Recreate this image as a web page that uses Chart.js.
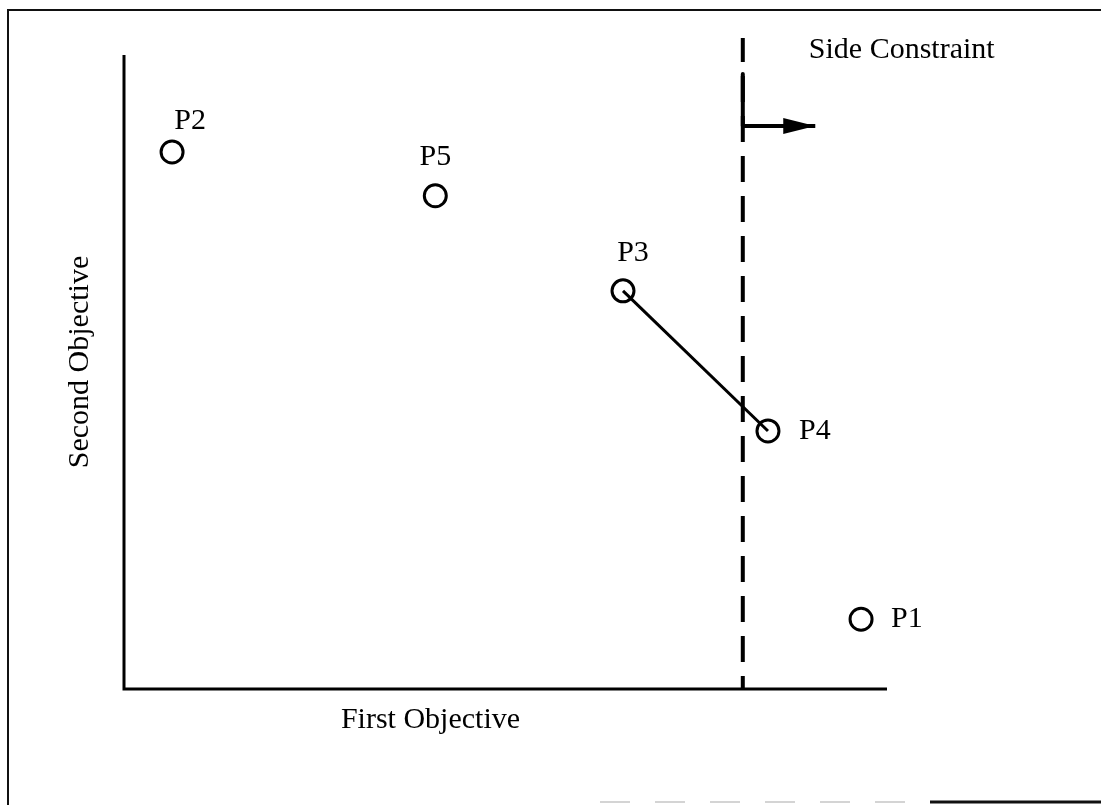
<!DOCTYPE html>
<html>
<head>
<meta charset="utf-8">
<script src="https://cdn.jsdelivr.net/npm/chart.js@4.4.1/dist/chart.umd.min.js"></script>
<style>
  html, body { margin: 0; padding: 0; background: #fff; }
  canvas { display: block; }
</style>
</head>
<body>
<canvas id="objChart" width="1101" height="805"></canvas>
<script>
// data (axis units 0..10, no ticks shown)
const pointNames = ['P1', 'P2', 'P3', 'P4', 'P5'];
const pointX = [9.66, 0.63, 6.54, 8.44, 4.08];
const pointY = [1.10, 8.47, 6.28, 4.07, 7.78];
const pathNames = ['P3', 'P4'];
const constraintX = [8.11, 8.11];
const constraintY = [0, 10.27];
const arrowX = [8.11, 8.11, 9.06];
const arrowY = [9.70, 8.88, 8.88];
const xTitle = 'First Objective';
const yTitle = 'Second Objective';
const constraintLabel = 'Side Constraint';

const FONT = '30px "Liberation Serif", "Times New Roman", serif';

function toXY(xs, ys) {
  return xs.map((x, i) => ({ x: x, y: ys[i] }));
}

const pathData = pathNames.map(n => {
  const i = pointNames.indexOf(n);
  return { x: pointX[i], y: pointY[i] };
});

// label offsets in pixels from each point centre
const labelOffsets = {
  P1: [30, 0, 'left'],
  P2: [18, -31, 'center'],
  P3: [10, -38, 'center'],
  P4: [31, 0, 'left'],
  P5: [0, -39, 'center']
};

const decorPlugin = {
  id: 'decor',
  beforeDraw(chart) {
    const ctx = chart.ctx;
    ctx.save();
    ctx.fillStyle = '#fff';
    ctx.fillRect(0, 0, chart.width, chart.height);
    // outer frame (scan edges)
    ctx.strokeStyle = '#111';
    ctx.lineWidth = 2;
    ctx.beginPath();
    ctx.moveTo(8, 805);
    ctx.lineTo(8, 10);
    ctx.lineTo(1101, 10);
    ctx.stroke();
    ctx.strokeStyle = '#d4d4d4';
    ctx.setLineDash([30, 25]);
    ctx.beginPath();
    ctx.moveTo(600, 802);
    ctx.lineTo(930, 802);
    ctx.stroke();
    ctx.setLineDash([]);
    ctx.strokeStyle = '#111';
    ctx.lineWidth = 3;
    ctx.beginPath();
    ctx.moveTo(930, 802);
    ctx.lineTo(1101, 802);
    ctx.stroke();

    // axes
    const xs = chart.scales.x, ys = chart.scales.y;
    ctx.strokeStyle = '#000';
    ctx.lineWidth = 3;
    ctx.beginPath();
    ctx.moveTo(xs.getPixelForValue(0), ys.getPixelForValue(10));
    ctx.lineTo(xs.getPixelForValue(0), ys.getPixelForValue(0));
    ctx.lineTo(xs.getPixelForValue(10), ys.getPixelForValue(0));
    ctx.stroke();
    ctx.restore();
  },
  afterDatasetsDraw(chart) {
    const ctx = chart.ctx;
    const xs = chart.scales.x, ys = chart.scales.y;
    ctx.save();
    ctx.fillStyle = '#000';
    ctx.font = FONT;
    ctx.textBaseline = 'middle';

    // point labels
    pointNames.forEach((n, i) => {
      const off = labelOffsets[n];
      ctx.textAlign = off[2];
      ctx.fillText(n, xs.getPixelForValue(pointX[i]) + off[0], ys.getPixelForValue(pointY[i]) + off[1]);
    });

    // arrow head at end of the constraint arrow
    const last = arrowX.length - 1;
    const tx = xs.getPixelForValue(arrowX[last]);
    const ty = ys.getPixelForValue(arrowY[last]);
    ctx.beginPath();
    ctx.moveTo(tx, ty);
    ctx.lineTo(tx - 32, ty - 8);
    ctx.lineTo(tx - 32, ty + 8);
    ctx.closePath();
    ctx.fill();

    // constraint label
    ctx.textAlign = 'left';
    ctx.fillText(constraintLabel, xs.getPixelForValue(constraintX[0]) + 66, 50);

    // axis titles
    ctx.textAlign = 'center';
    ctx.fillText(xTitle, (xs.left + xs.right) / 2 - 75, ys.bottom + 31);
    ctx.translate(xs.left - 44, (ys.top + ys.bottom) / 2 - 10);
    ctx.rotate(-Math.PI / 2);
    ctx.fillText(yTitle, 0, 0);
    ctx.restore();
  }
};

new Chart(document.getElementById('objChart'), {
  type: 'scatter',
  data: {
    datasets: [
      {
        label: 'constraint',
        type: 'line',
        data: toXY(constraintX, constraintY),
        borderColor: '#000',
        borderWidth: 4,
        borderDash: [26, 14],
        borderDashOffset: 13,
        pointRadius: 0,
        clip: false
      },
      {
        label: 'direction',
        type: 'line',
        data: toXY(arrowX, arrowY),
        borderColor: '#000',
        borderWidth: 4,
        borderJoinStyle: 'round',
        pointRadius: 0,
        tension: 0,
        clip: false
      },
      {
        label: 'path',
        type: 'line',
        data: pathData,
        borderColor: '#000',
        borderWidth: 3,
        pointRadius: 0,
        clip: false
      },
      {
        label: 'designs',
        data: toXY(pointX, pointY),
        pointRadius: 11,
        pointBorderWidth: 3,
        pointBackgroundColor: 'rgba(0,0,0,0)',
        pointBorderColor: '#000',
        clip: false
      }
    ]
  },
  options: {
    responsive: false,
    animation: false,
    devicePixelRatio: 1,
    layout: { padding: { left: 124, right: 214, top: 55, bottom: 116 } },
    scales: {
      x: { type: 'linear', min: 0, max: 10, display: false },
      y: { type: 'linear', min: 0, max: 10, display: false }
    },
    plugins: {
      legend: { display: false },
      tooltip: { enabled: false }
    }
  },
  plugins: [decorPlugin]
});
</script>
</body>
</html>
